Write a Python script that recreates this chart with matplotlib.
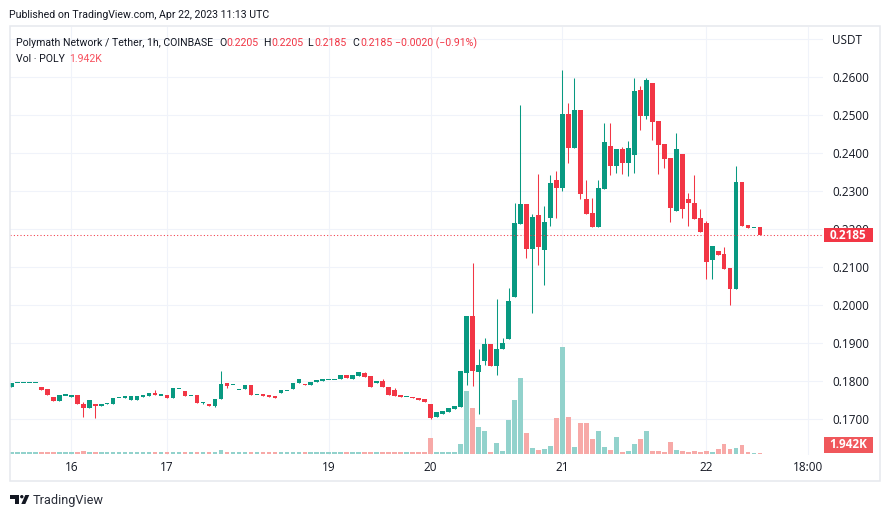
import numpy as np
import matplotlib
matplotlib.use("Agg")
import matplotlib.pyplot as plt
from matplotlib.patches import Rectangle, Polygon, Circle
from matplotlib.transforms import blended_transform_factory, IdentityTransform

plt.rcParams['font.family'] = ['Open Sans', 'DejaVu Sans']

# ---------------- data: POLY/USDT 1h candles ----------------
opens = [
    0.1786, 0.1797, 0.1797, 0.1797, 0.1797, 0.1785, 0.1780, 0.1759, 0.1749, 0.1764,
    0.1760, 0.1764, 0.1741, 0.1731, 0.1740, 0.1736, 0.1739, 0.1741, 0.1758, 0.1757,
    0.1752, 0.1752, 0.1760, 0.1762, 0.1770, 0.1764, 0.1765, 0.1757, 0.1782, 0.1775,
    0.1763, 0.1765, 0.1745, 0.1741, 0.1736, 0.1754, 0.1796, 0.1792, 0.1779, 0.1779,
    0.1790, 0.1766, 0.1766, 0.1764, 0.1761, 0.1768, 0.1777, 0.1781, 0.1796, 0.1793,
    0.1791, 0.1798, 0.1802, 0.1805, 0.1805, 0.1805, 0.1817, 0.1805, 0.1815, 0.1822,
    0.1814, 0.1796, 0.1801, 0.1785, 0.1777, 0.1764, 0.1760, 0.1758, 0.1756, 0.1753,
    0.1740, 0.1705, 0.1715, 0.1720, 0.1728, 0.1732, 0.1821, 0.1973, 0.1824, 0.1854,
    0.1899, 0.1839, 0.1884, 0.1911, 0.2023, 0.2215, 0.2267, 0.2149, 0.2238, 0.2146,
    0.2231, 0.2330, 0.2310, 0.2504, 0.2415, 0.2514, 0.2280, 0.2243, 0.2207, 0.2307,
    0.2419, 0.2367, 0.2411, 0.2375, 0.2396, 0.2567, 0.2499, 0.2585, 0.2485, 0.2425,
    0.2388, 0.2249, 0.2398, 0.2280, 0.2269, 0.2230, 0.2217, 0.2119, 0.2143, 0.2135,
    0.2098, 0.2044, 0.2325, 0.2211, 0.2205, 0.2205,
]
highs = [
    0.1796, 0.1797, 0.1797, 0.1797, 0.1797, 0.1785, 0.1780, 0.1759, 0.1765, 0.1764,
    0.1764, 0.1764, 0.1746, 0.1751, 0.1740, 0.1740, 0.1744, 0.1756, 0.1758, 0.1761,
    0.1761, 0.1761, 0.1765, 0.1770, 0.1778, 0.1764, 0.1765, 0.1783, 0.1782, 0.1775,
    0.1763, 0.1765, 0.1745, 0.1741, 0.1754, 0.1827, 0.1796, 0.1792, 0.1779, 0.1790,
    0.1790, 0.1766, 0.1766, 0.1764, 0.1761, 0.1777, 0.1777, 0.1796, 0.1806, 0.1793,
    0.1798, 0.1803, 0.1806, 0.1805, 0.1805, 0.1817, 0.1817, 0.1817, 0.1825, 0.1825,
    0.1814, 0.1801, 0.1806, 0.1785, 0.1782, 0.1764, 0.1760, 0.1758, 0.1756, 0.1753,
    0.1740, 0.1718, 0.1723, 0.1731, 0.1734, 0.1828, 0.1973, 0.2111, 0.1886, 0.1915,
    0.1899, 0.2017, 0.1915, 0.2046, 0.2269, 0.2528, 0.2267, 0.2239, 0.2346, 0.2262,
    0.2342, 0.2354, 0.2619, 0.2532, 0.2598, 0.2514, 0.2330, 0.2282, 0.2330, 0.2480,
    0.2480, 0.2411, 0.2417, 0.2432, 0.2598, 0.2577, 0.2598, 0.2585, 0.2485, 0.2425,
    0.2388, 0.2454, 0.2398, 0.2296, 0.2343, 0.2253, 0.2222, 0.2156, 0.2143, 0.2154,
    0.2098, 0.2367, 0.2325, 0.2211, 0.2205, 0.2205,
]
lows = [
    0.1786, 0.1797, 0.1797, 0.1797, 0.1797, 0.1778, 0.1765, 0.1749, 0.1749, 0.1764,
    0.1760, 0.1739, 0.1707, 0.1731, 0.1704, 0.1736, 0.1739, 0.1741, 0.1758, 0.1757,
    0.1752, 0.1752, 0.1760, 0.1762, 0.1763, 0.1764, 0.1757, 0.1757, 0.1782, 0.1762,
    0.1763, 0.1744, 0.1741, 0.1736, 0.1733, 0.1754, 0.1783, 0.1792, 0.1779, 0.1779,
    0.1765, 0.1766, 0.1762, 0.1760, 0.1757, 0.1768, 0.1777, 0.1781, 0.1796, 0.1789,
    0.1791, 0.1798, 0.1802, 0.1805, 0.1805, 0.1805, 0.1810, 0.1805, 0.1815, 0.1812,
    0.1786, 0.1796, 0.1786, 0.1765, 0.1762, 0.1760, 0.1760, 0.1757, 0.1752, 0.1746,
    0.1701, 0.1705, 0.1715, 0.1720, 0.1728, 0.1732, 0.1790, 0.1788, 0.1713, 0.1844,
    0.1839, 0.1816, 0.1884, 0.1911, 0.2023, 0.2215, 0.2125, 0.1981, 0.2107, 0.2054,
    0.2210, 0.2231, 0.2302, 0.2375, 0.2415, 0.2281, 0.2241, 0.2207, 0.2207, 0.2307,
    0.2342, 0.2347, 0.2346, 0.2339, 0.2349, 0.2462, 0.2489, 0.2436, 0.2346, 0.2362,
    0.2220, 0.2249, 0.2231, 0.2210, 0.2228, 0.2194, 0.2070, 0.2070, 0.2132, 0.2096,
    0.2002, 0.2044, 0.2209, 0.2204, 0.2205, 0.2185,
]
closes = [
    0.1796, 0.1797, 0.1797, 0.1797, 0.1797, 0.1778, 0.1765, 0.1749, 0.1765, 0.1764,
    0.1764, 0.1739, 0.1731, 0.1751, 0.1736, 0.1740, 0.1744, 0.1756, 0.1758, 0.1761,
    0.1761, 0.1761, 0.1765, 0.1770, 0.1763, 0.1764, 0.1757, 0.1783, 0.1782, 0.1762,
    0.1763, 0.1744, 0.1745, 0.1736, 0.1754, 0.1793, 0.1788, 0.1792, 0.1779, 0.1790,
    0.1765, 0.1766, 0.1762, 0.1760, 0.1757, 0.1777, 0.1777, 0.1796, 0.1806, 0.1789,
    0.1798, 0.1803, 0.1806, 0.1805, 0.1805, 0.1817, 0.1810, 0.1817, 0.1825, 0.1812,
    0.1786, 0.1801, 0.1786, 0.1765, 0.1762, 0.1760, 0.1760, 0.1757, 0.1752, 0.1746,
    0.1704, 0.1718, 0.1723, 0.1731, 0.1734, 0.1828, 0.1973, 0.1826, 0.1843, 0.1899,
    0.1839, 0.1886, 0.1901, 0.2012, 0.2217, 0.2267, 0.2149, 0.2232, 0.2154, 0.2219,
    0.2322, 0.2310, 0.2504, 0.2415, 0.2514, 0.2294, 0.2241, 0.2207, 0.2309, 0.2430,
    0.2367, 0.2411, 0.2375, 0.2414, 0.2564, 0.2499, 0.2593, 0.2483, 0.2423, 0.2386,
    0.2257, 0.2411, 0.2254, 0.2268, 0.2228, 0.2194, 0.2115, 0.2156, 0.2132, 0.2096,
    0.2044, 0.2325, 0.2209, 0.2204, 0.2205, 0.2185,
]
# volume in thousands of POLY (last bar = 1.942K)
volumes_k = [
    2.8, 2.8, 2.8, 2.8, 2.8, 2.8, 2.8, 2.8, 2.8, 2.8,
    2.8, 2.8, 7.0, 5.5, 5.5, 2.8, 2.8, 2.8, 2.8, 2.8,
    2.8, 2.8, 2.8, 2.8, 2.8, 2.8, 2.8, 2.8, 2.8, 2.8,
    2.8, 5.5, 2.8, 2.8, 2.8, 8.3, 5.5, 2.8, 2.8, 2.8,
    2.8, 2.8, 2.8, 2.8, 2.8, 2.8, 2.8, 5.5, 2.8, 2.8,
    2.8, 5.5, 2.8, 2.8, 2.8, 2.8, 2.8, 2.8, 2.8, 2.8,
    2.8, 2.8, 2.8, 2.8, 2.8, 2.8, 2.8, 2.8, 2.8, 2.8,
    44, 2.8, 2.8, 2.8, 2.8, 26, 172, 127, 72, 61,
    5.5, 29, 8.0, 94, 147, 210, 58, 15, 10, 13,
    21, 97, 296, 102, 19, 83, 83, 39, 61, 18,
    10, 47, 4.5, 7.0, 27, 39, 61, 7.0, 7.0, 4.5,
    32, 10, 7.0, 4.5, 7.0, 3.5, 7.0, 4.5, 12.5, 26,
    12.5, 15, 23.5, 2.8, 2.0, 1.942,
]
day_pos = [11, 27, 54, 71, 93, 117, 134]          # bar index of each time label
day_labels = ["16", "17", "19", "20", "21", "22", "18:00"]
price_ticks = [0.17, 0.18, 0.19, 0.20, 0.21, 0.22, 0.23, 0.24, 0.25, 0.26, 0.27]
price_labels = ["0.1700", "0.1800", "0.1900", "0.2000", "0.2100", "0.2200",
                "0.2300", "0.2400", "0.2500", "0.2600", "USDT"]

# ---------------- style ----------------
UP, DOWN = "#089981", "#f23645"
UP_V, DOWN_V = "#92d2cc", "#f7a9a7"
GRID = "#f0f3fa"
TXT = "#131722"
HEAD_FONT = ['Roboto', 'DejaVu Sans']
W, H = 890, 517

o, h, l, c = map(np.array, (opens, highs, lows, closes))
v = np.array(volumes_k)
x = np.arange(1, len(o) + 1)
up = c >= o

fig = plt.figure(figsize=(W / 100, H / 100), dpi=100)
fig.patch.set_facecolor("white")
rect = [10 / W, 1 - 455 / H, 813 / W, 428 / H]
vax = fig.add_axes(rect, zorder=1)
ax = fig.add_axes(rect, zorder=2)
ax.patch.set_visible(False)

xlim = (0.78, 136.5)
ax.set_xlim(*xlim); vax.set_xlim(*xlim)
ax.set_ylim(0.16061, 0.27324)
vpx = v.max() / 107.0                              # tallest volume bar ~107 px
vax.set_ylim(-1.5 * vpx, 426.5 * vpx)

# grid (drawn under the volume bars)
th = blended_transform_factory(vax.transAxes, ax.transData)
for p in price_ticks:
    vax.plot([0, 1], [p, p], transform=th, color=GRID, lw=0.8, zorder=0)
for d in day_pos:
    vax.axvline(d, color=GRID, lw=0.8, zorder=0)

# volume
vax.bar(x, v, width=0.78, color=np.where(up, UP_V, DOWN_V), linewidth=0, zorder=1)

# candles
col = np.where(up, UP, DOWN)
min_h = 1.1 / 3800
body_lo = np.minimum(o, c)
body_h = np.abs(c - o)
flat = body_h < min_h
body_lo = np.where(flat, (o + c) / 2 - min_h / 2, body_lo)
body_h = np.where(flat, min_h, body_h)
ax.vlines(x, l, h, colors=col, linewidth=0.75, zorder=2)
ax.bar(x, body_h, bottom=body_lo, width=0.78, color=col, linewidth=0, zorder=3)

# last price dotted line
ax.axhline(c[-1], color=DOWN, lw=0.75, linestyle=(0, (1, 2.2)), zorder=4)

for a in (ax, vax):
    for s in a.spines.values():
        s.set_visible(False)
vax.set_xticks([]); vax.set_yticks([])

ax.yaxis.tick_right()
ax.set_yticks(price_ticks, price_labels)
ax.set_xticks(day_pos, day_labels)
ax.tick_params(axis="y", length=0, pad=6.5, labelsize=8.5, labelcolor=TXT)
ax.tick_params(axis="x", length=0, pad=4.0, labelsize=8.5, labelcolor=TXT)

# ---------------- labels in the price scale ----------------
idt = IdentityTransform()
_, py = ax.transData.transform((0, c[-1]))
fig.patches.append(Rectangle((824, py - 7), 49, 14, transform=idt,
                             facecolor=DOWN, edgecolor="none", zorder=10))
fig.text(848.5, py, f"{c[-1]:.4f}", transform=idt, ha="center", va="center",
         color="white", fontsize=8.5, fontweight="bold", zorder=11)
fig.patches.append(Rectangle((824, H - 453), 49, 16, transform=idt,
                             facecolor="#f0575b", edgecolor="none", zorder=10))
fig.text(848.5, H - 445, f"{v[-1]:.3f}K", transform=idt, ha="center", va="center",
         color="white", fontsize=8.5, fontweight="bold", zorder=11)

# chart frame
fig.patches.append(Rectangle((10, H - 481), 870, 455, transform=idt, fill=False,
                             edgecolor="#e6e8ee", lw=1.1, zorder=9))

# ---------------- header ----------------
def put(px, py_top, s, **kw):
    kw.setdefault("color", TXT)
    kw.setdefault("fontsize", 7.6)
    kw.setdefault("family", HEAD_FONT)
    fig.text(px / W, 1 - py_top / H, s, va="baseline", **kw)

put(9, 18.5, "Published on TradingView.com, Apr 22, 2023 11:13 UTC")
put(16, 46.5, "Polymath Network / Tether, 1h, COINBASE")
chg = c[-1] - c[-2]
put(219, 46.5, "O"); put(226, 46.5, f"{o[-1]:.4f}", color=DOWN)
put(263, 46.5, "H"); put(271, 46.5, f"{h[-1]:.4f}", color=DOWN)
put(307, 46.5, "L"); put(314, 46.5, f"{l[-1]:.4f}", color=DOWN)
put(352, 46.5, "C"); put(360, 46.5, f"{c[-1]:.4f}", color=DOWN)
put(395, 46.5, f"\u2212{abs(chg):.4f} (\u2212{abs(chg) / c[-2] * 100:.2f}%)", color=DOWN)
put(16, 62.5, "Vol \u00b7 POLY")
put(69, 62.5, f"{v[-1]:.3f}K", color="#f7525f")

# ---------------- TradingView logo ----------------
def P(px, py_top):
    return (px, H - py_top)

logo = "#131722"
fig.patches.append(Polygon([P(10, 495), P(19.3, 495), P(19.3, 504), P(14.7, 504),
                            P(14.7, 499), P(10, 499)], closed=True, transform=idt,
                           facecolor=logo, edgecolor="none"))
fig.patches.append(Circle(P(21.8, 496.7), 1.7, transform=idt, facecolor=logo, edgecolor="none"))
fig.patches.append(Polygon([P(21.3, 504), P(25.3, 504), P(29.3, 495), P(25.3, 495)],
                           closed=True, transform=idt, facecolor=logo, edgecolor="none"))
put(33, 504, "TradingView", fontsize=9.2, color="#2a2e39")

fig.savefig("out.png", dpi=100, facecolor="white")
